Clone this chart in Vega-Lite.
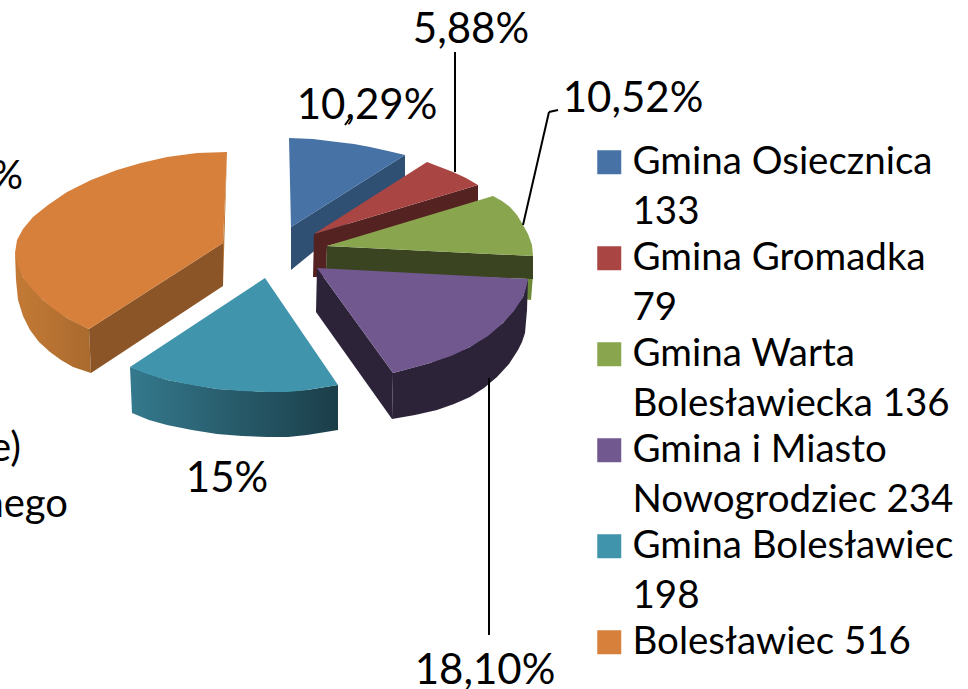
{
"$schema":"https://vega.github.io/schema/vega-lite/v6.json",
"width":968,"height":689,"autosize":"none","padding":0,"background":"white",
"config":{"view":{"stroke":null},"font":"Lato"},
"datasets":{
"tops":[
{"gmina":"Gmina Osiecznica 133","n":1,"px":291,"py":227},{"gmina":"Gmina Osiecznica 133","n":2,"px":289,"py":138},{"gmina":"Gmina Osiecznica 133","n":3,"px":313,"py":139},{"gmina":"Gmina Osiecznica 133","n":4,"px":337,"py":142},{"gmina":"Gmina Osiecznica 133","n":5,"px":354,"py":144},{"gmina":"Gmina Osiecznica 133","n":6,"px":370,"py":147},{"gmina":"Gmina Osiecznica 133","n":7,"px":388,"py":151},{"gmina":"Gmina Osiecznica 133","n":8,"px":405,"py":155},
{"gmina":"Gmina Gromadka 79","n":1,"px":314,"py":234},{"gmina":"Gmina Gromadka 79","n":2,"px":427,"py":162},{"gmina":"Gmina Gromadka 79","n":3,"px":440,"py":167},{"gmina":"Gmina Gromadka 79","n":4,"px":453,"py":172},{"gmina":"Gmina Gromadka 79","n":5,"px":466,"py":178},{"gmina":"Gmina Gromadka 79","n":6,"px":478,"py":185},
{"gmina":"Gmina Warta Bolesławiecka 136","n":1,"px":327,"py":246},{"gmina":"Gmina Warta Bolesławiecka 136","n":2,"px":493,"py":196},{"gmina":"Gmina Warta Bolesławiecka 136","n":3,"px":502,"py":201},{"gmina":"Gmina Warta Bolesławiecka 136","n":4,"px":510,"py":207},{"gmina":"Gmina Warta Bolesławiecka 136","n":5,"px":517,"py":215},{"gmina":"Gmina Warta Bolesławiecka 136","n":6,"px":523,"py":225},{"gmina":"Gmina Warta Bolesławiecka 136","n":7,"px":528,"py":234},{"gmina":"Gmina Warta Bolesławiecka 136","n":8,"px":532,"py":245},{"gmina":"Gmina Warta Bolesławiecka 136","n":9,"px":533,"py":256},
{"gmina":"Gmina i Miasto Nowogrodziec 234","n":1,"px":317,"py":268},{"gmina":"Gmina i Miasto Nowogrodziec 234","n":2,"px":528,"py":279},{"gmina":"Gmina i Miasto Nowogrodziec 234","n":3,"px":526,"py":288},{"gmina":"Gmina i Miasto Nowogrodziec 234","n":4,"px":523,"py":297},{"gmina":"Gmina i Miasto Nowogrodziec 234","n":5,"px":514,"py":311},{"gmina":"Gmina i Miasto Nowogrodziec 234","n":6,"px":503,"py":323},{"gmina":"Gmina i Miasto Nowogrodziec 234","n":7,"px":488,"py":336},{"gmina":"Gmina i Miasto Nowogrodziec 234","n":8,"px":470,"py":347},{"gmina":"Gmina i Miasto Nowogrodziec 234","n":9,"px":451,"py":356},{"gmina":"Gmina i Miasto Nowogrodziec 234","n":10,"px":430,"py":363},{"gmina":"Gmina i Miasto Nowogrodziec 234","n":11,"px":412,"py":368},{"gmina":"Gmina i Miasto Nowogrodziec 234","n":12,"px":393,"py":373},
{"gmina":"Gmina Bolesławiec 198","n":1,"px":265,"py":278},{"gmina":"Gmina Bolesławiec 198","n":2,"px":338,"py":385},{"gmina":"Gmina Bolesławiec 198","n":3,"px":307,"py":390},{"gmina":"Gmina Bolesławiec 198","n":4,"px":288,"py":392},{"gmina":"Gmina Bolesławiec 198","n":5,"px":267,"py":392},{"gmina":"Gmina Bolesławiec 198","n":6,"px":242,"py":391},{"gmina":"Gmina Bolesławiec 198","n":7,"px":217,"py":389},{"gmina":"Gmina Bolesławiec 198","n":8,"px":192,"py":385},{"gmina":"Gmina Bolesławiec 198","n":9,"px":167,"py":380},{"gmina":"Gmina Bolesławiec 198","n":10,"px":147,"py":374},{"gmina":"Gmina Bolesławiec 198","n":11,"px":130,"py":367},
{"gmina":"Bolesławiec 516","n":1,"px":223,"py":243},{"gmina":"Bolesławiec 516","n":2,"px":227,"py":152},{"gmina":"Bolesławiec 516","n":3,"px":197,"py":153},{"gmina":"Bolesławiec 516","n":4,"px":167,"py":157},{"gmina":"Bolesławiec 516","n":5,"px":141,"py":163},{"gmina":"Bolesławiec 516","n":6,"px":117,"py":170},{"gmina":"Bolesławiec 516","n":7,"px":91,"py":180},{"gmina":"Bolesławiec 516","n":8,"px":67,"py":192},{"gmina":"Bolesławiec 516","n":9,"px":48,"py":205},{"gmina":"Bolesławiec 516","n":10,"px":33,"py":217},{"gmina":"Bolesławiec 516","n":11,"px":23,"py":229},{"gmina":"Bolesławiec 516","n":12,"px":17,"py":240},{"gmina":"Bolesławiec 516","n":13,"px":15,"py":253},{"gmina":"Bolesławiec 516","n":14,"px":18,"py":266},{"gmina":"Bolesławiec 516","n":15,"px":23,"py":277},{"gmina":"Bolesławiec 516","n":16,"px":32,"py":289},{"gmina":"Bolesławiec 516","n":17,"px":43,"py":300},{"gmina":"Bolesławiec 516","n":18,"px":55,"py":310},{"gmina":"Bolesławiec 516","n":19,"px":67,"py":318},{"gmina":"Bolesławiec 516","n":20,"px":78,"py":324},{"gmina":"Bolesławiec 516","n":21,"px":89,"py":329}
],
"sides":[
{"face":"blue cut","n":1,"px":291,"py":227},{"face":"blue cut","n":2,"px":405,"py":155},{"face":"blue cut","n":3,"px":405,"py":177},{"face":"blue cut","n":4,"px":291,"py":270},
{"face":"red cut","n":1,"px":314,"py":234},{"face":"red cut","n":2,"px":478,"py":185},{"face":"red cut","n":3,"px":478,"py":205},{"face":"red cut","n":4,"px":327,"py":246},{"face":"red cut","n":5,"px":326,"py":277},{"face":"red cut","n":6,"px":313,"py":277},
{"face":"green rim","n":1,"px":527,"py":275},{"face":"green rim","n":2,"px":533,"py":275},{"face":"green rim","n":3,"px":531,"py":300},{"face":"green rim","n":4,"px":524,"py":299},
{"face":"green cut","n":1,"px":327,"py":246},{"face":"green cut","n":2,"px":533,"py":256},{"face":"green cut","n":3,"px":533,"py":279},{"face":"green cut","n":4,"px":326,"py":272},
{"face":"purple cut","n":1,"px":317,"py":268},{"face":"purple cut","n":2,"px":393,"py":373},{"face":"purple cut","n":3,"px":392,"py":419},{"face":"purple cut","n":4,"px":316,"py":312},
{"face":"purple rim","n":1,"px":528,"py":279},{"face":"purple rim","n":2,"px":527,"py":310},{"face":"purple rim","n":3,"px":525,"py":333},{"face":"purple rim","n":4,"px":522,"py":342},{"face":"purple rim","n":5,"px":518,"py":350},{"face":"purple rim","n":6,"px":509,"py":364},{"face":"purple rim","n":7,"px":497,"py":377},{"face":"purple rim","n":8,"px":484,"py":388},{"face":"purple rim","n":9,"px":470,"py":397},{"face":"purple rim","n":10,"px":454,"py":404},{"face":"purple rim","n":11,"px":437,"py":410},{"face":"purple rim","n":12,"px":415,"py":415},{"face":"purple rim","n":13,"px":392,"py":419},{"face":"purple rim","n":14,"px":393,"py":373},{"face":"purple rim","n":15,"px":430,"py":363},{"face":"purple rim","n":16,"px":470,"py":347},{"face":"purple rim","n":17,"px":503,"py":323},{"face":"purple rim","n":18,"px":523,"py":297},
{"face":"orange cut","n":1,"px":223,"py":243},{"face":"orange cut","n":2,"px":89,"py":329},{"face":"orange cut","n":3,"px":91,"py":373},{"face":"orange cut","n":4,"px":223,"py":286},
{"face":"orange edge","n":1,"px":227,"py":152},{"face":"orange edge","n":2,"px":223,"py":243},{"face":"orange edge","n":3,"px":223,"py":286}
],
"orangeRim":[
{"n":1,"px":15,"py":253},{"n":2,"px":16,"py":280},{"n":3,"px":18,"py":300},{"n":4,"px":23,"py":316},{"n":5,"px":30,"py":330},{"n":6,"px":39,"py":342},{"n":7,"px":50,"py":352},{"n":8,"px":61,"py":360},{"n":9,"px":73,"py":367},{"n":10,"px":91,"py":373},{"n":11,"px":89,"py":329},{"n":12,"px":67,"py":318},{"n":13,"px":43,"py":300},{"n":14,"px":23,"py":277}
],
"tealRim":[
{"n":1,"px":130,"py":367},{"n":2,"px":132,"py":413},{"n":3,"px":149,"py":420},{"n":4,"px":167,"py":425},{"n":5,"px":192,"py":430},{"n":6,"px":217,"py":434},{"n":7,"px":242,"py":436},{"n":8,"px":267,"py":437},{"n":9,"px":288,"py":437},{"n":10,"px":307,"py":435},{"n":11,"px":338,"py":430},{"n":12,"px":338,"py":385},{"n":13,"px":307,"py":390},{"n":14,"px":267,"py":392},{"n":15,"px":217,"py":389},{"n":16,"px":167,"py":380}
]
},
"layer":[
{"data":{"name":"orangeRim"},
 "mark":{"type":"line","filled":true,"color":{"gradient":"linear","x1":0,"y1":0,"x2":1,"y2":0,"stops":[{"offset":0,"color":"#c47a36"},{"offset":1,"color":"#a96a2e"}]}},
 "encoding":{"x":{"field":"px","type":"quantitative","scale":{"domain":[0,968],"nice":false,"zero":false},"axis":null},"y":{"field":"py","type":"quantitative","scale":{"domain":[689,0],"nice":false,"zero":false},"axis":null},"order":{"field":"n","type":"ordinal"}}},
{"data":{"name":"tealRim"},
 "mark":{"type":"line","filled":true,"color":{"gradient":"linear","x1":0,"y1":0,"x2":1,"y2":0,"stops":[{"offset":0,"color":"#34798d"},{"offset":1,"color":"#1b3e49"}]}},
 "encoding":{"x":{"field":"px","type":"quantitative","axis":null},"y":{"field":"py","type":"quantitative","axis":null},"order":{"field":"n","type":"ordinal"}}},
{"data":{"name":"sides"},
 "mark":{"type":"line","filled":true},
 "encoding":{"x":{"field":"px","type":"quantitative","axis":null},"y":{"field":"py","type":"quantitative","axis":null},"order":{"field":"n","type":"ordinal"},"detail":{"field":"face"},
 "color":{"field":"face","type":"nominal","legend":null,"scale":{"domain":["blue cut","red cut","green rim","green cut","purple cut","purple rim","orange cut","orange edge"],"range":["#2f4f73","#552222","#6d8a3a","#3a4420","#2d2339","#2d2339","#8b5528","#b87433"]}}}},
{"data":{"name":"tops"},
 "mark":{"type":"line","filled":true},
 "encoding":{"x":{"field":"px","type":"quantitative","axis":null},"y":{"field":"py","type":"quantitative","axis":null},"order":{"field":"n","type":"ordinal"},
 "color":{"field":"gmina","type":"nominal","scale":{"domain":["Gmina Osiecznica 133","Gmina Gromadka 79","Gmina Warta Bolesławiecka 136","Gmina i Miasto Nowogrodziec 234","Gmina Bolesławiec 198","Bolesławiec 516"],"range":["#4672a6","#a94644","#89a54e","#71588f","#4094ac","#d6803c"]},
 "legend":{"title":null,"orient":"none","legendX":590,"legendY":143,"symbolType":"square","symbolSize":576,"symbolOpacity":1,"symbolStrokeWidth":0,"labelFont":"Lato","labelFontSize":38.5,"labelColor":"#000000","labelLimit":400,"labelOffset":4,"rowPadding":7,
  "encode":{"labels":{"update":{"lineHeight":{"value":50}}}},
  "labelExpr":"{'Gmina Osiecznica 133':['Gmina Osiecznica','133'],'Gmina Gromadka 79':['Gmina Gromadka','79'],'Gmina Warta Bolesławiecka 136':['Gmina Warta','Bolesławiecka 136'],'Gmina i Miasto Nowogrodziec 234':['Gmina i Miasto','Nowogrodziec 234'],'Gmina Bolesławiec 198':['Gmina Bolesławiec','198'],'Bolesławiec 516':['Bolesławiec 516']}[datum.label]"}}}},
{"data":{"values":[
 {"px":455,"py":52,"px2":455,"py2":172},
 {"px":523,"py":225,"px2":549,"py2":112},
 {"px":549,"py":112,"px2":558,"py2":110},
 {"px":489,"py":378,"px2":489,"py2":635},
 {"px":345,"py":125,"px2":350,"py2":118}]},
 "mark":{"type":"rule","color":"#000000","strokeWidth":2},
 "encoding":{"x":{"field":"px","type":"quantitative","axis":null},"y":{"field":"py","type":"quantitative","axis":null},"x2":{"field":"px2"},"y2":{"field":"py2"}}},
{"data":{"values":[
 {"t":"10,29%","px":367,"py":106},{"t":"5,88%","px":471,"py":30},{"t":"10,52%","px":633,"py":99},{"t":"15%","px":227,"py":479},{"t":"18,10%","px":485,"py":671}]},
 "mark":{"type":"text","font":"Lato","fontSize":42,"color":"#000000","align":"center","baseline":"middle"},
 "encoding":{"x":{"field":"px","type":"quantitative","axis":null},"y":{"field":"py","type":"quantitative","axis":null},"text":{"field":"t"}}},
{"data":{"values":[
 {"t":"39,91%","px":23,"py":177},{"t":"e)","px":21,"py":449},{"t":"nego","px":68,"py":505}]},
 "mark":{"type":"text","font":"Lato","fontSize":40,"color":"#000000","align":"right","baseline":"middle"},
 "encoding":{"x":{"field":"px","type":"quantitative","axis":null},"y":{"field":"py","type":"quantitative","axis":null},"text":{"field":"t"}}}
],
"resolve":{"scale":{"color":"independent"}}
}
